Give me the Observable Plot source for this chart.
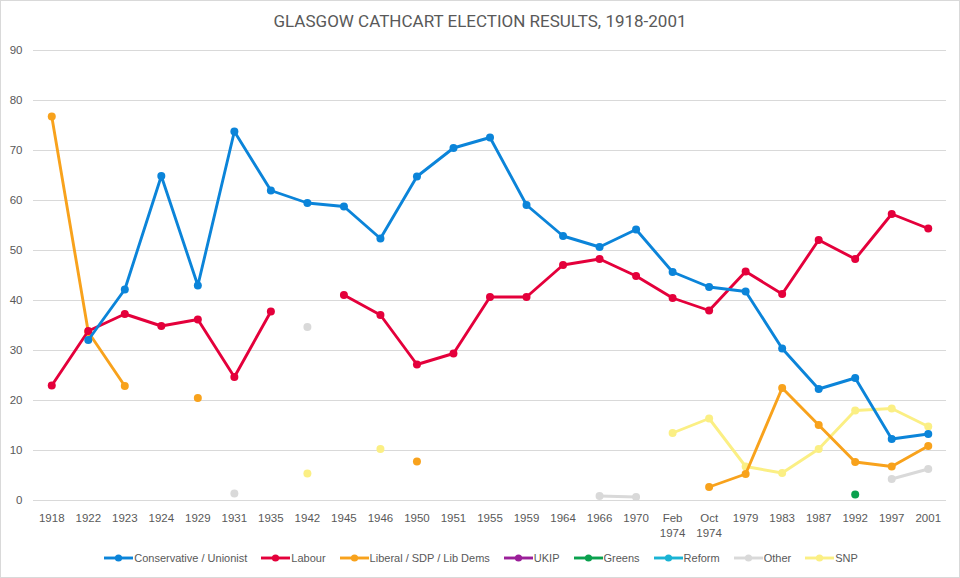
<!DOCTYPE html>
<html>
<head>
<meta charset="utf-8">
<script src="https://cdn.jsdelivr.net/npm/d3@7"></script>
<script src="https://cdn.jsdelivr.net/npm/@observablehq/plot@0.6"></script>
<style>
  html, body { margin: 0; padding: 0; background: #fff; }
  #wrap { position: relative; width: 958px; height: 576px; border: 1px solid #d9d9d9; overflow: hidden; font-family: "Liberation Sans", Arial, sans-serif; }
  #title { height: 35px; text-align: center; font-family: Roboto, "Liberation Sans", sans-serif; font-size: 17px; color: #595959; line-height: 40px; }
  #legend { display: flex; justify-content: center; align-items: center; gap: 14px; font-size: 11px; color: #595959; margin-top: 5px; margin-left: 2px; }
  .item { display: flex; align-items: center; }
  .item svg { margin-right: 1px; }
</style>
</head>
<body>
<div id="wrap">
  <div id="title">GLASGOW CATHCART ELECTION RESULTS, 1918-2001</div>
  <div id="chart"></div>
  <div id="legend"></div>
</div>
<script>
const categories = ["1918","1922","1923","1924","1929","1931","1935","1942","1945","1946","1950","1951","1955","1959","1964","1966","1970","Feb 1974","Oct 1974","1979","1983","1987","1992","1997","2001"];

const conservative = [null,32.1,42.2,64.9,43.0,73.8,62.0,59.5,58.8,52.4,64.8,70.5,72.6,59.1,52.9,50.7,54.2,45.7,42.7,41.8,30.4,22.3,24.5,12.3,13.3];
const labour       = [23.0,33.9,37.3,34.9,36.2,24.7,37.8,null,41.1,37.1,27.2,29.4,40.7,40.7,47.1,48.3,44.9,40.5,38.0,45.8,41.3,52.1,48.3,57.3,54.4];
const liberal      = [76.8,33.7,22.9,null,20.5,null,null,null,null,null,7.8,null,null,null,null,null,null,null,2.7,5.3,22.5,15.1,7.7,6.8,10.9];
const ukip         = [null,null,null,null,null,null,null,null,null,null,null,null,null,null,null,null,null,null,null,null,null,null,null,null,null];
const greens       = [null,null,null,null,null,null,null,null,null,null,null,null,null,null,null,null,null,null,null,null,null,null,1.2,null,null];
const reform       = [null,null,null,null,null,null,null,null,null,null,null,null,null,null,null,null,null,null,null,null,null,null,null,null,null];
const other        = [null,null,null,null,null,1.4,null,34.7,null,null,null,null,null,null,null,0.9,0.7,null,null,null,null,null,null,4.3,6.3];
const snp          = [null,null,null,null,null,null,null,5.4,null,10.3,null,null,null,null,null,null,null,13.5,16.4,6.8,5.5,10.3,18.0,18.4,14.8];

const seriesNames  = ["Conservative / Unionist","Labour","Liberal / SDP / Lib Dems","UKIP","Greens","Reform","Other","SNP"];
const seriesColors = ["#0b84d9","#e4003b","#f8a21c","#9b1f99","#0aa14e","#1ab3d4","#d9d9d9","#fbef84"];
const seriesValues = [conservative, labour, liberal, ukip, greens, reform, other, snp];
const yTicks = [0,10,20,30,40,50,60,70,80,90];

const rows = [];
seriesNames.forEach((name, si) => {
  seriesValues[si].forEach((v, ci) => {
    rows.push({series: name, cat: categories[ci], value: v == null ? NaN : v});
  });
});
const drawOrder = ["Other","SNP","Greens","UKIP","Reform","Liberal / SDP / Lib Dems","Labour","Conservative / Unionist"];
const colorOf = n => seriesColors[seriesNames.indexOf(n)];

const marks = [
  Plot.ruleY(yTicks, {stroke: "#d9d9d9", strokeWidth: 1}),
];
drawOrder.forEach(n => {
  const d = rows.filter(r => r.series === n);
  marks.push(Plot.line(d, {x: "cat", y: "value", stroke: colorOf(n), strokeWidth: 2.9, strokeLinejoin: "round", strokeLinecap: "round"}));
  marks.push(Plot.dot(d.filter(r => !isNaN(r.value)), {x: "cat", y: "value", fill: colorOf(n), r: 4}));
});

const chart = Plot.plot({
  width: 958,
  height: 511,
  marginLeft: 32,
  marginRight: 13,
  marginTop: 14,
  marginBottom: 47,
  style: {fontFamily: "Liberation Sans, Arial, sans-serif", fontSize: "11px", color: "#595959", background: "transparent", overflow: "visible"},
  x: {type: "band", domain: categories, padding: 0, round: false, label: null},
  y: {domain: [0, 90], label: null},
  marks: [
    ...marks,
    Plot.axisY({ticks: yTicks, tickSize: 0, tickPadding: 11, label: null, fill: "#595959", fontSize: 11.5}),
    Plot.axisX({tickSize: 0, tickPadding: 11, label: null, fill: "#595959", fontSize: 11.5, lineHeight: 1.3,
      tickFormat: d => d.replace(" ", "\n")})
  ]
});
document.getElementById("chart").appendChild(chart);

const legend = document.getElementById("legend");
seriesNames.forEach((n, i) => {
  const item = document.createElement("div");
  item.className = "item";
  const c = seriesColors[i];
  item.innerHTML = `<svg width="29" height="10"><line x1="0" y1="5" x2="29" y2="5" stroke="${c}" stroke-width="2.9"/><circle cx="14.5" cy="5" r="3.6" fill="${c}"/></svg><span>${n}</span>`;
  legend.appendChild(item);
});
</script>
</body>
</html>
